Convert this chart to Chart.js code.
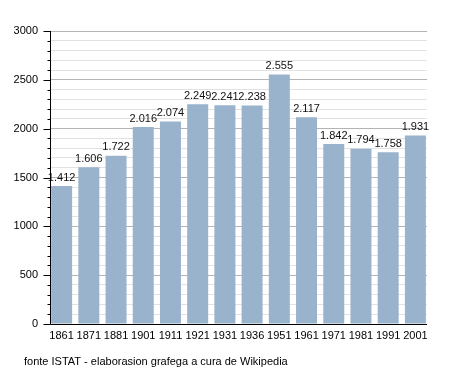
<!DOCTYPE html>
<html>
<head>
<meta charset="utf-8">
<script src="https://cdn.jsdelivr.net/npm/chart.js@4"></script>
<style>
  html, body { margin: 0; padding: 0; background: #fff; }
</style>
</head>
<body>
<canvas id="chart" width="455" height="373"></canvas>
<script>
// Censimenti - popolasion
const years = ['1861', '1871', '1881', '1901', '1911', '1921', '1931', '1936', '1951', '1961', '1971', '1981', '1991', '2001'];
const population = [1412, 1606, 1722, 2016, 2074, 2249, 2241, 2238, 2555, 2117, 1842, 1794, 1758, 1931];
const footerText = 'fonte ISTAT - elaborasion grafega a cura de Wikipedia';

const FONT = 'Liberation Sans, Arial, sans-serif';

// thousand separator with a dot
function fmt(v) {
    return String(v).replace(/\B(?=(\d{3})+(?!\d))/g, '.');
}

const extras = {
    id: 'extras',
    // bars sit a bit left, gap on the right side like the original
    afterLayout(chart) {
        const x = chart.scales.x;
        x.left = chart.chartArea.left - 2;
        x.right = chart.chartArea.right + 2;
        x.configure();
    },
    afterDatasetsDraw(chart) {
        const ctx = chart.ctx;
        const area = chart.chartArea;
        const meta = chart.getDatasetMeta(0);
        ctx.save();
        ctx.font = '11px ' + FONT;
        ctx.fillStyle = '#111';
        ctx.textAlign = 'center';
        ctx.textBaseline = 'bottom';
        meta.data.forEach((bar, i) => {
            ctx.fillText(fmt(population[i]), bar.x, bar.y - 3);
        });

        // axis lines and tick marks
        ctx.strokeStyle = '#000';
        ctx.lineWidth = 1;
        const y = chart.scales.y;
        const x0 = Math.round(area.left) + 0.5;
        const yb = Math.round(area.bottom) + 0.5;
        ctx.beginPath();
        ctx.moveTo(x0, Math.round(area.top));
        ctx.lineTo(x0, yb);
        ctx.lineTo(Math.round(area.right), yb);
        ctx.stroke();
        for (let v = 0; v <= 3000; v += 100) {
            const py = Math.round(y.getPixelForValue(v)) + 0.5;
            const len = v % 500 === 0 ? 7 : 3;
            ctx.beginPath();
            ctx.moveTo(x0 - len, py);
            ctx.lineTo(x0, py);
            ctx.stroke();
        }

        ctx.textAlign = 'left';
        ctx.textBaseline = 'middle';
        ctx.fillStyle = '#000';
        ctx.fillText(footerText, 24, 362);
        ctx.restore();
    }
};

new Chart(document.getElementById('chart').getContext('2d'), {
    type: 'bar',
    data: {
        labels: years,
        datasets: [{
            data: population,
            backgroundColor: '#9ab3cc',
            borderWidth: 0,
            barPercentage: 0.772,
            categoryPercentage: 1
        }]
    },
    options: {
        responsive: false,
        animation: false,
        layout: { padding: { top: 31, right: 28, left: 0, bottom: 0 } },
        plugins: {
            legend: { display: false },
            tooltip: { enabled: false }
        },
        scales: {
            x: {
                grid: { display: false, drawTicks: false },
                border: { display: false },
                ticks: {
                    color: '#000',
                    font: { family: FONT, size: 11 },
                    padding: 5,
                    maxRotation: 0,
                    autoSkip: false
                },
                afterFit(scale) { scale.height = 49; }
            },
            y: {
                min: 0,
                max: 3000,
                grid: {
                    drawTicks: false,
                    color: (c) => (c.tick && c.tick.value % 500 === 0) ? '#b4b4b4' : '#e2e2e2'
                },
                border: { display: false },
                ticks: {
                    stepSize: 100,
                    autoSkip: false,
                    padding: 12,
                    color: '#000',
                    font: { family: FONT, size: 11 },
                    callback: (v) => v % 500 === 0 ? String(v) : ''
                },
                afterFit(scale) { scale.width = 50; }
            }
        }
    },
    plugins: [extras]
});
</script>
</body>
</html>
